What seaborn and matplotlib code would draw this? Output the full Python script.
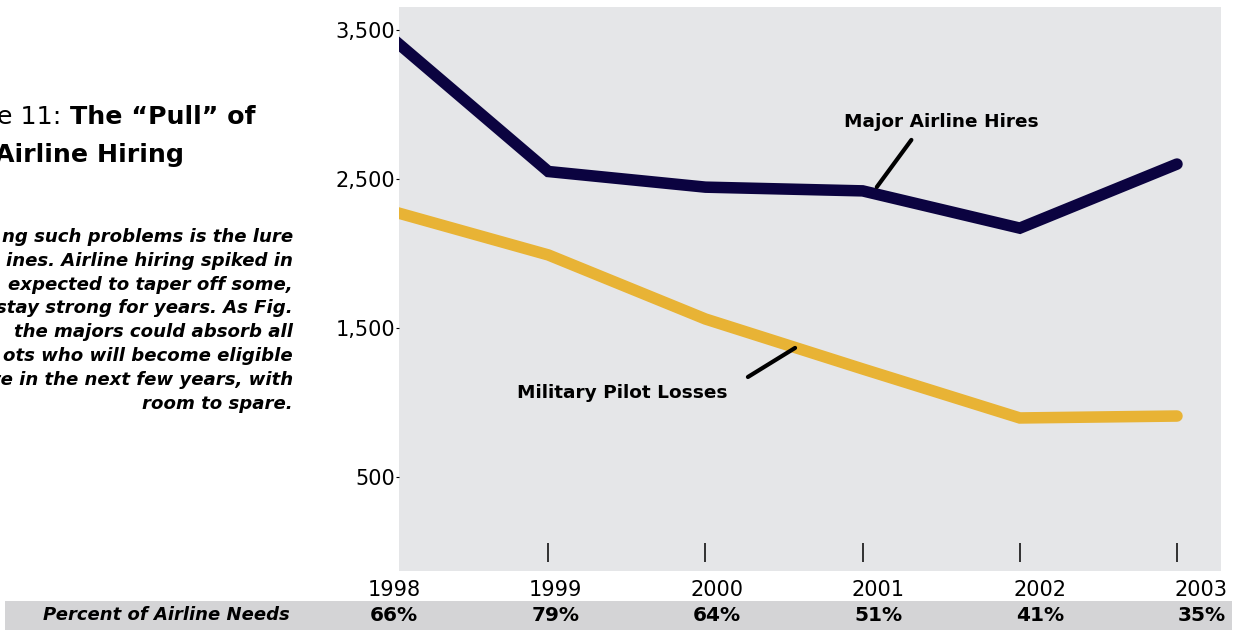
import pandas as pd
import matplotlib.pyplot as plt
import seaborn as sns

# datos
years = [1998, 1999, 2000, 2001, 2002, 2003]
major_hires = [3450, 2550, 2445, 2420, 2170, 2600]
military_losses = [2285, 1990, 1560, 1225, 896, 909]
pct_needs = ["66%", "79%", "64%", "51%", "41%", "35%"]
y_ticks = [500, 1500, 2500, 3500]

body_lines = [
    "ng such problems is the lure",
    "ines. Airline hiring spiked in",
    "expected to taper off some,",
    "stay strong for years. As Fig.",
    "the majors could absorb all",
    "ots who will become eligible",
    "te in the next few years, with",
    "room to spare.",
]

navy = "#0b0340"
gold = "#e8b335"
bg = "#e5e6e8"
band_col = "#d4d4d6"

sns.set_style("white")
plt.rcParams["font.family"] = ["DejaVu Sans"]
plt.rcParams["text.color"] = "black"
plt.rcParams["ytick.color"] = "black"
plt.rcParams["xtick.color"] = "black"

W, H = 1246, 630
fig = plt.figure(figsize=(W / 100, H / 100), dpi=100)

# eje principal
ax = fig.add_axes([399 / W, (H - 571) / H, 822 / W, 564 / H])
ax.set_facecolor(bg)

df = pd.DataFrame({
    "year": years * 2,
    "pilots": major_hires + military_losses,
    "serie": ["Major Airline Hires"] * len(years) + ["Military Pilot Losses"] * len(years),
})
sns.lineplot(data=df, x="year", y="pilots", hue="serie",
             palette={"Major Airline Hires": navy, "Military Pilot Losses": gold},
             hue_order=["Military Pilot Losses", "Major Airline Hires"],
             linewidth=8.3, legend=False, ax=ax,
             solid_capstyle="round", solid_joinstyle="miter")

for s in ax.spines.values():
    s.set_visible(False)
ax.set_xlim(1998.05, 2003.28)
ax.set_ylim(-131, 3654)
ax.set_yticks(y_ticks)
ax.set_yticklabels([f"{v:,}" for v in y_ticks])
ax.tick_params(axis="y", length=2, width=0.8, pad=1, labelsize=15, left=True,
               colors="black")
ax.set_xticks([])
ax.set_xlabel("")
ax.set_ylabel("")

# marcas verticales de los años
ax.vlines(years[1:], 0.016, 0.05, transform=ax.get_xaxis_transform(),
          color="black", linewidth=1.1)

# etiquetas de las series
ax.text(2001.5, 2849, "Major Airline Hires", ha="center", va="baseline",
        fontsize=13.3, fontweight="bold", color="black")
ax.plot([2001.31, 2001.09], [2762, 2446], color="black", linewidth=3)
ax.text(1999.47, 1030, "Military Pilot Losses", ha="center", va="baseline",
        fontsize=13.3, fontweight="bold", color="black")
ax.plot([2000.27, 2000.57], [1171, 1366], color="black", linewidth=3)

# banda inferior
band = fig.add_axes([5 / W, 0, 1227 / W, 29 / H])
band.set_facecolor(band_col)
for s in band.spines.values():
    s.set_visible(False)
band.set_xticks([])
band.set_yticks([])
band.set_xlim(1998 - 389 / 161.5, 1998 + 838 / 161.5)
band.set_ylim(0, 1)
for yr, p in zip(years, pct_needs):
    band.text(yr, 0.5, p, ha="center", va="center", fontsize=14.5, fontweight="bold")
    band.text(yr, 1.38, str(yr), ha="center", va="center", fontsize=15, clip_on=False)
band.text(285 / 1227, 0.5, "Percent of Airline Needs", transform=band.transAxes,
          ha="right", va="center", fontsize=13, fontweight="bold", style="italic")

# titulo y texto de la izquierda
t1 = fig.text(255 / W, 1 - 124 / H, "The \u201cPull\u201d of", ha="right", va="baseline",
              fontsize=18.2, fontweight="bold")
fig.text(255 / W, 1 - 124 / H, "e 11: ", ha="right", va="baseline", fontsize=18.2)
fig.canvas.draw()
bb = t1.get_window_extent()
fig.texts[-1].set_x(bb.x0 / W)
fig.text(184 / W, 1 - 162 / H, "Airline Hiring", ha="right", va="baseline",
         fontsize=18.2, fontweight="bold")

for i, line in enumerate(body_lines):
    fig.text(293 / W, 1 - (242 + 23.8 * i) / H, line, ha="right", va="baseline",
             fontsize=13.1, fontweight="bold", style="italic")

fig.savefig("out.png", dpi=100)
